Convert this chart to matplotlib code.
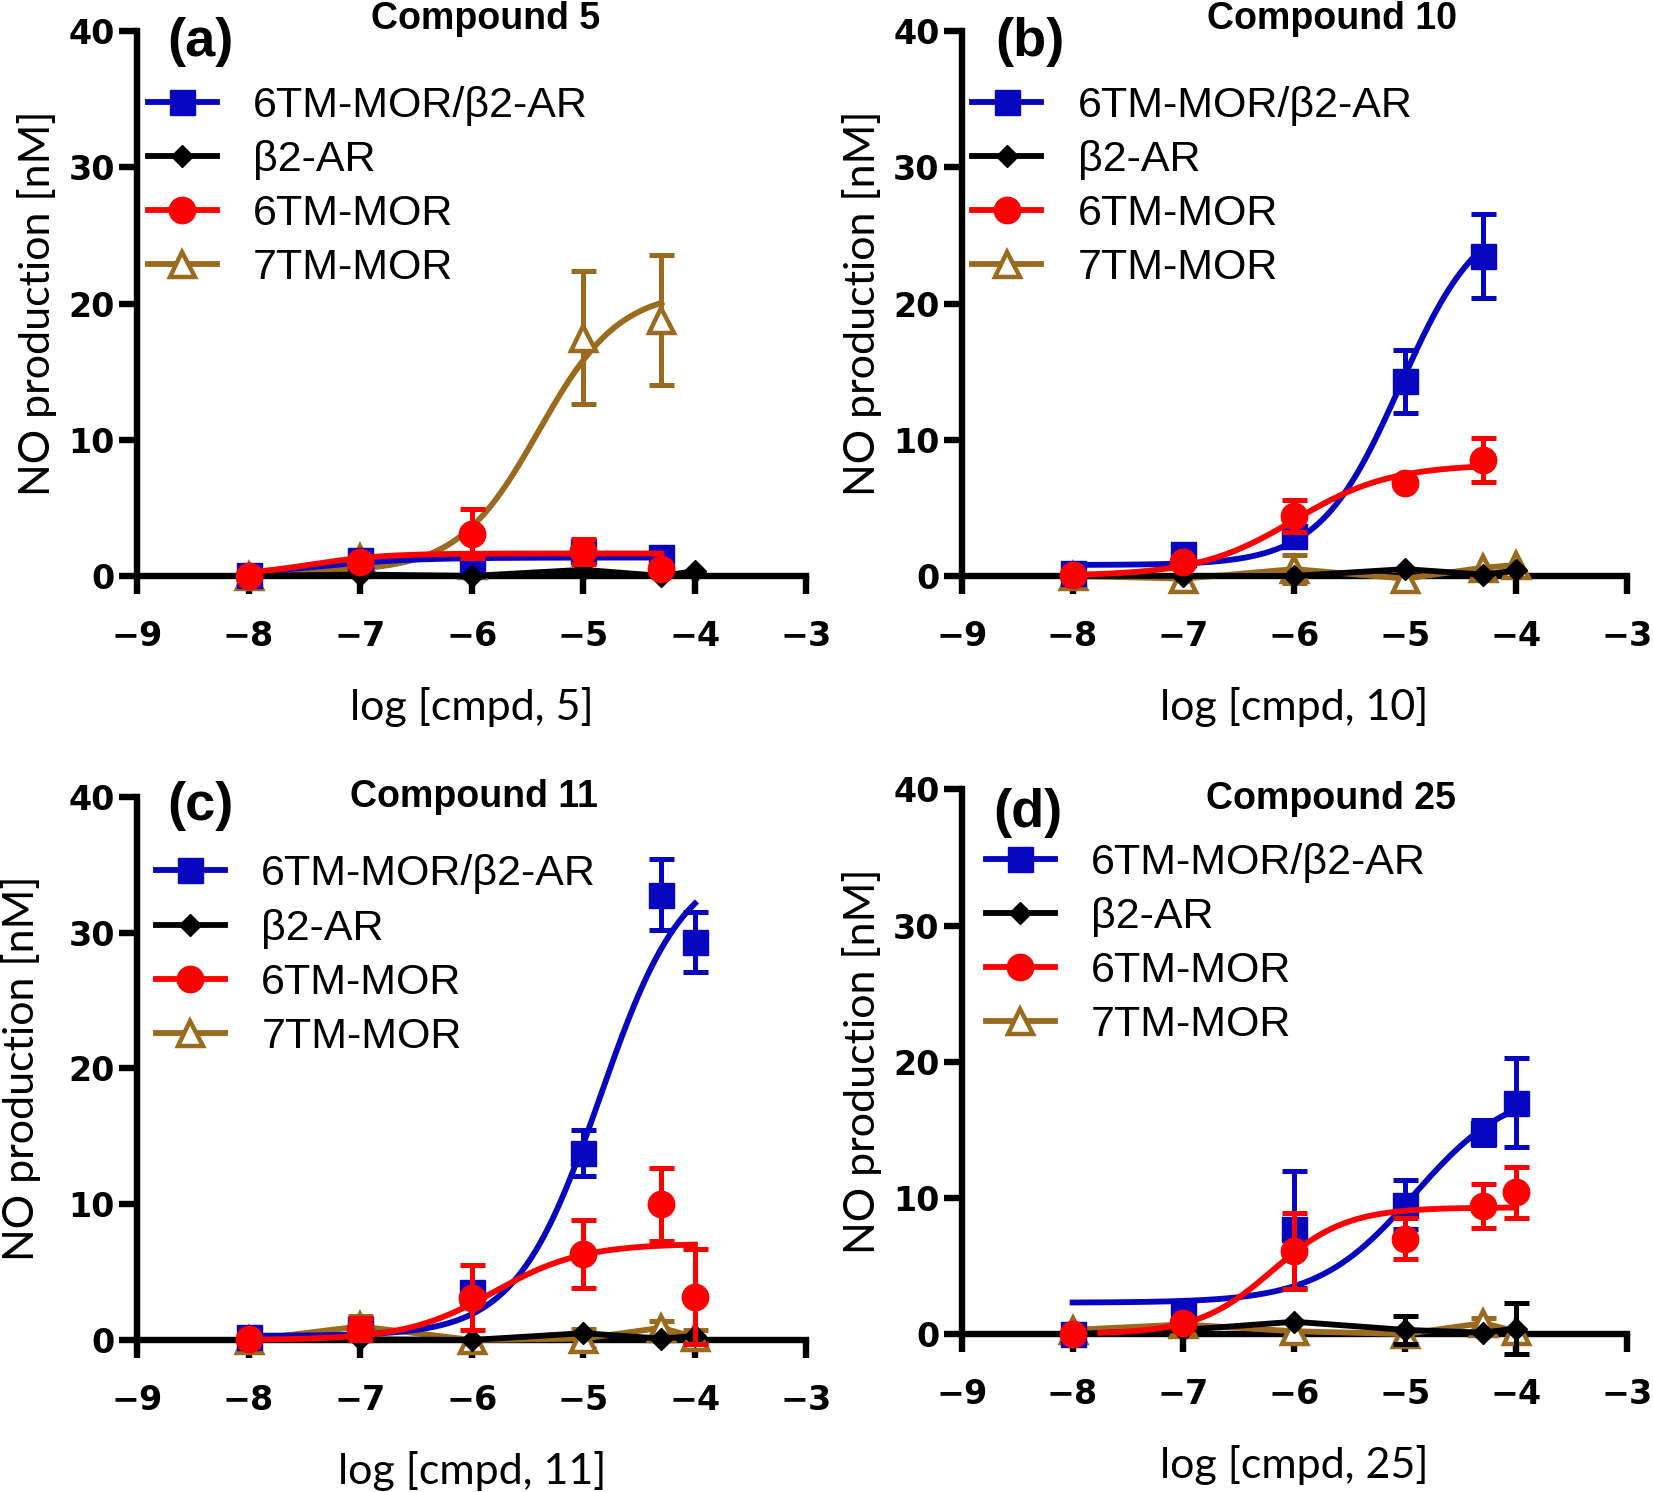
import numpy as np
import matplotlib.pyplot as plt
from matplotlib.lines import Line2D
from matplotlib.font_manager import FontProperties

nan = np.nan

# log concentration of each measured point
doses = [-8, -7, -6, -5, -4.3, -4]

titles = ["Compound 5", "Compound 10", "Compound 11", "Compound 25"]
tags = ["(a)", "(b)", "(c)", "(d)"]
xlabels = ["log [cmpd, 5]", "log [cmpd, 10]", "log [cmpd, 11]", "log [cmpd, 25]"]
names = ["6TM-MOR/β2-AR", "β2-AR", "6TM-MOR", "7TM-MOR"]

# --- compound 5
a_dimer = [0.1, 1.2, 0.8, 1.8, 1.4, nan]
a_dimer_err = [0, 0, 0, 0.6, 0.3, nan]
a_b2 = [0.0, 0.1, 0.0, 0.45, 0.0, 0.35]
a_b2_err = [0, 0, 0, 0, 0, 0]
a_mor6 = [0.0, 1.0, 3.1, 1.8, 0.5, nan]
a_mor6_err = [0, 0, 1.8, 0.9, 0, nan]
a_mor7 = [0.0, 1.3, 0.8, 17.5, 18.8, nan]
a_mor7_err = [0, 0.5, 0, 4.9, 4.8, nan]

# --- compound 10
b_dimer = [0.2, 1.6, 2.9, 14.3, 23.5, nan]
b_dimer_err = [0, 0, 0, 2.3, 3.1, nan]
b_b2 = [0.0, 0.0, 0.0, 0.5, 0.1, 0.4]
b_b2_err = [0, 0, 0, 0, 0, 0]
b_mor6 = [0.1, 1.0, 4.4, 6.8, 8.5, nan]
b_mor6_err = [0, 0, 1.2, 0, 1.6, nan]
b_mor7 = [0.0, -0.2, 0.5, -0.2, 0.6, 0.8]
b_mor7_err = [0, 0, 1.0, 0, 0, 0]

# --- compound 11
c_dimer = [0.2, 0.8, 3.5, 13.8, 32.8, 29.3]
c_dimer_err = [0, 0, 0, 1.7, 2.6, 2.2]
c_b2 = [0.0, 0.05, 0.0, 0.5, 0.1, 0.3]
c_b2_err = [0, 0, 0, 0, 0, 0]
c_mor6 = [0.1, 0.8, 3.1, 6.3, 10.0, 3.2]
c_mor6_err = [0, 0.8, 2.4, 2.5, 2.7, 3.5]
c_mor7 = [0.0, 1.0, 0.0, 0.1, 0.9, 0.2]
c_mor7_err = [0, 0.8, 0, 0.7, 0.5, 0.5]

# --- compound 25
d_dimer = [0.0, 1.6, 7.7, 9.5, 14.8, 17.0]
d_dimer_err = [0, 0, 4.3, 1.8, 0.9, 3.3]
d_b2 = [0.0, 0.3, 0.9, 0.3, 0.1, 0.4]
d_b2_err = [0, 0, 0, 1.0, 0, 1.9]
d_mor6 = [0.0, 0.8, 6.1, 7.0, 9.4, 10.4]
d_mor6_err = [0, 0, 2.8, 1.5, 1.6, 1.9]
d_mor7 = [0.3, 0.7, 0.2, 0.0, 0.8, 0.2]
d_mor7_err = [0, 0, 0, 0, 0.4, 0]

# fitted dose-response curves: bottom, top, logEC50, hill slope, x from, x to
a_fits = {0: (0.0, 1.35, -7.4, 1.0, -8, -4.3), 2: (0.0, 1.65, -7.45, 1.3, -8, -4.3),
          3: (0.3, 21.0, -5.4, 1.2, -8, -4.3)}
b_fits = {0: (0.8, 27.0, -5.05, 1.2, -8, -4.3), 2: (0.0, 8.2, -6.0, 1.0, -8, -4.3)}
c_fits = {0: (0.3, 35.5, -4.85, 1.15, -8, -4), 2: (0.0, 7.1, -5.8, 1.1, -8, -4)}
d_fits = {0: (2.3, 18.2, -4.92, 1.0, -8, -4), 2: (0.0, 9.3, -6.2, 1.3, -7.75, -4)}

panels = [
    ([a_dimer, a_b2, a_mor6, a_mor7], [a_dimer_err, a_b2_err, a_mor6_err, a_mor7_err], a_fits),
    ([b_dimer, b_b2, b_mor6, b_mor7], [b_dimer_err, b_b2_err, b_mor6_err, b_mor7_err], b_fits),
    ([c_dimer, c_b2, c_mor6, c_mor7], [c_dimer_err, c_b2_err, c_mor6_err, c_mor7_err], c_fits),
    ([d_dimer, d_b2, d_mor6, d_mor7], [d_dimer_err, d_b2_err, d_mor6_err, d_mor7_err], d_fits),
]

BLUE = "#0606c0"
RED = "#ff0000"
BROWN = "#9a6a1e"
colors = [BLUE, "black", RED, BROWN]
markers = ["s", "D", "o", "^"]
msizes = [18, 11, 19, 18]
zorders = [4, 5, 6, 3]

tick_font = FontProperties(family="DejaVu Sans", weight="bold", size=24)
title_font = FontProperties(family="Liberation Sans", weight="bold", size=27)
tag_font = FontProperties(family="Liberation Sans", weight="bold", size=39)
label_font = FontProperties(family="Lato", size=31)
legend_font = FontProperties(family="Liberation Sans", size=31)


def hill(x, bottom, top, logec50, slope):
    return bottom + (top - bottom) / (1 + 10 ** ((logec50 - x) * slope))


fig = plt.figure(figsize=(16.53, 14.92), dpi=100)

rects = [
    [0.0829, 0.614, 0.405, 0.365],
    [0.5818, 0.614, 0.4025, 0.365],
    [0.0829, 0.1019, 0.405, 0.364],
    [0.5818, 0.1059, 0.4025, 0.365],
]
title_pos = [(0.52, 1.023), (0.556, 1.023), (0.503, 1.0), (0.555, 0.983)]
tag_pos = [(0.094, 0.98), (0.102, 0.98), (0.094, 0.983), (0.099, 0.957)]
legend_pos = [(0.016, 0.9), (0.016, 0.9), (0.028, 0.894), (0.036, 0.902)]
ylabel_pad = [8, 8, 20, 8]

for k, (series, errs, fits) in enumerate(panels):
    ax = fig.add_axes(rects[k])
    for i in range(4):
        y = np.array(series[i], dtype=float)
        e = np.array(errs[i], dtype=float)
        x = np.array(doses, dtype=float)
        ok = ~np.isnan(y)
        col = colors[i]
        face = "white" if markers[i] == "^" else col
        z = zorders[i]
        if i in fits:
            bot, top, ec, sl, x0, x1 = fits[i]
            xx = np.linspace(x0, x1, 300)
            ax.plot(xx, hill(xx, bot, top, ec, sl), color=col, lw=4.2, zorder=z, clip_on=False)
        else:
            ax.plot(x[ok], y[ok], color=col, lw=4.2, zorder=z, clip_on=False)
        has = ok & (np.nan_to_num(e) > 0)
        if has.any():
            ax.errorbar(x[has], y[has], yerr=e[has], fmt="none", ecolor=col, elinewidth=3.6,
                        capsize=9, capthick=3.6, zorder=z, clip_on=False)
        ax.plot(x[ok], y[ok], ls="none", marker=markers[i], ms=msizes[i], mfc=face, mec=col,
                mew=3.2 if markers[i] == "^" else 1, zorder=z + 0.5, clip_on=False)

    ax.set_xlim(-9, -3)
    ax.set_ylim(0, 40)
    ax.set_xticks(range(-9, -2))
    ax.set_yticks([0, 10, 20, 30, 40])
    for s in ["top", "right"]:
        ax.spines[s].set_visible(False)
    for s in ["left", "bottom"]:
        ax.spines[s].set_linewidth(4.6)
    ax.tick_params(direction="out", length=13, width=4.6)
    ax.tick_params(axis="x", pad=19)
    ax.tick_params(axis="y", pad=3)
    for lab in ax.get_xticklabels() + ax.get_yticklabels():
        lab.set_fontproperties(tick_font)
    ax.set_xlabel(xlabels[k], fontproperties=label_font, labelpad=24)
    ax.set_ylabel("NO production [nM]", fontproperties=label_font, labelpad=ylabel_pad[k])

    ax.text(*title_pos[k], titles[k], transform=ax.transAxes, ha="center", va="center",
            fontproperties=title_font)
    ax.text(*tag_pos[k], tags[k], transform=ax.transAxes, ha="center", va="center",
            fontproperties=tag_font)

    handles = []
    for i in range(4):
        face = "white" if markers[i] == "^" else colors[i]
        handles.append(Line2D([], [], color=colors[i], lw=4.2, marker=markers[i], ms=msizes[i],
                              mfc=face, mec=colors[i], mew=3.2 if markers[i] == "^" else 1))
    ax.legend(handles, names, loc="upper left", bbox_to_anchor=legend_pos[k], frameon=False,
              prop=legend_font, handlelength=1.6, handletextpad=0.85, labelspacing=0.33,
              borderaxespad=0, borderpad=0)

fig.savefig("out.png", dpi=100)
